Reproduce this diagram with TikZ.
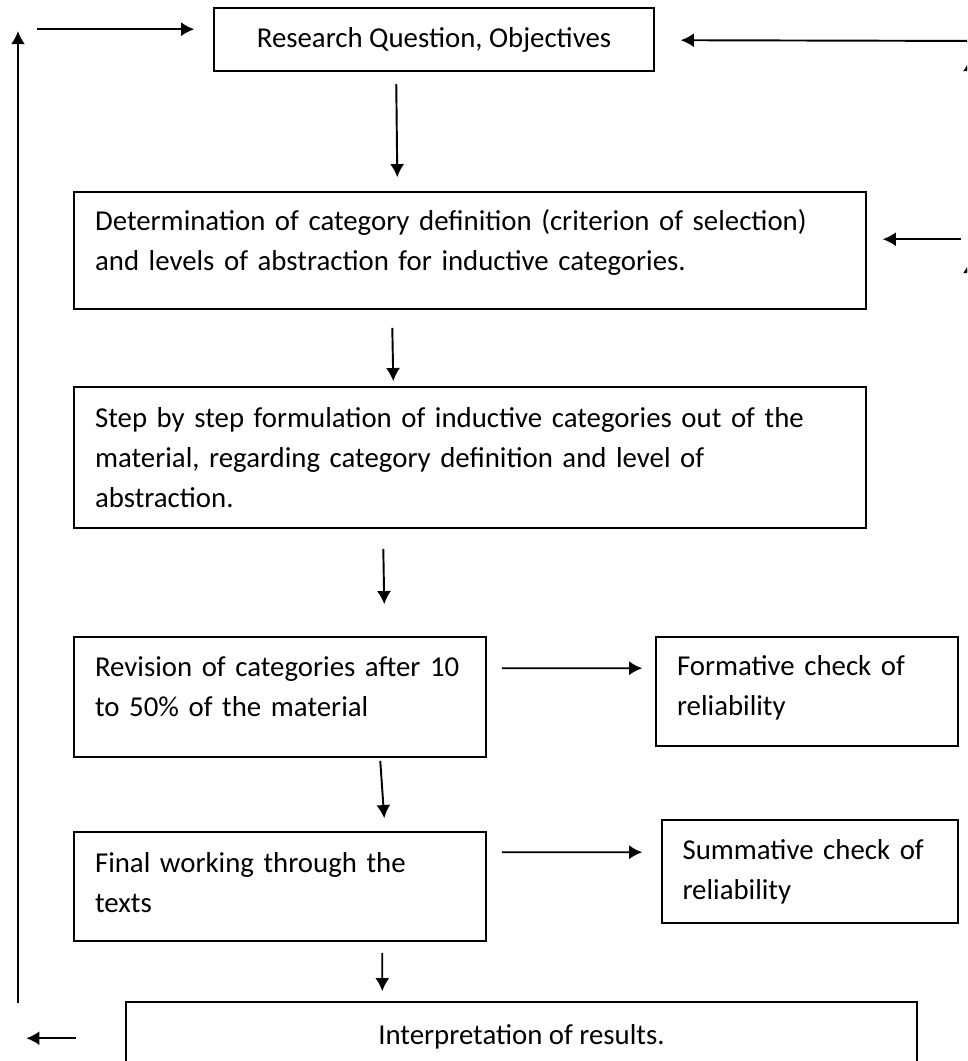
\documentclass[tikz,border=0pt]{standalone}
\usepackage{fontspec}
\setmainfont{Carlito}
\usetikzlibrary{arrows.meta, calc}

\tikzset{
  stepbox/.style={draw, line width=0.9pt, inner xsep=0pt, inner ysep=0pt, align=left},
  flow/.style={-{Latex[length=7.5pt, width=8pt]}, line width=1.1pt},
}

\begin{document}
\begin{tikzpicture}[x=0.02cm, y=-0.02cm, font={\fontsize{16.4}{22.8}\selectfont}]
\useasboundingbox (0,0) rectangle (967,1061);
\clip (0,0) rectangle (967,1061);

% boxes (centres in px, sizes in cm)
\node[stepbox, align=center, minimum width=8.8cm, minimum height=1.26cm] (q) at (434,39.5)
  {Research Question, Objectives};
\node[stepbox, minimum width=15.84cm, minimum height=2.34cm, text width=15.0cm, text depth=34.4pt] (def) at (470,250.5)
  {Determination of category definition (criterion of selection)\\and levels of abstraction for inductive categories.};
\node[stepbox, minimum width=15.84cm, minimum height=2.82cm, text width=15.0cm] (form) at (470,457.5)
  {Step by step formulation of inductive categories out of the\\material, regarding category definition and level of\\abstraction.};
\node[stepbox, minimum width=8.24cm, minimum height=2.4cm, text width=7.4cm, text depth=34.2pt] (rev) at (280,697)
  {Revision of categories after 10\\to 50\% of the material};
\node[stepbox, minimum width=6.04cm, minimum height=2.18cm, text width=5.2cm, text depth=29.9pt] (fcheck) at (807,691.5)
  {Formative check of\\reliability};
\node[stepbox, minimum width=8.24cm, minimum height=2.18cm, text width=7.4cm, text depth=27.4pt] (final) at (280,886.5)
  {Final working through the\\texts};
\node[stepbox, minimum width=5.92cm, minimum height=2.06cm, text width=5.1cm] (scheck) at (810,871.5)
  {Summative check of\\reliability};
\node[stepbox, align=center, minimum width=15.82cm, minimum height=1.4cm] (interp) at (521.5,1037)
  {Interpretation of results.};

% feedback loop
\coordinate (loopb) at (18,1003);
\coordinate (loopt) at (18,31);
\coordinate (rtop) at (990,41);
\coordinate (rup1) at (970,240);
\coordinate (rup2) at (970,520);

\begin{scope}[flow]
\draw ($(q.south west)+(183,12)$) -- ($(def.north west)+(324,-14)$);
\draw ($(def.south west)+(319,18)$) -- ($(form.north west)+(320,-5)$);
\draw ($(form.south west)+(310,20)$) -- ($(rev.north west)+(311,-32)$);
\draw ($(rev.south west)+(307,3)$) -- ($(final.north west)+(311,-13)$);
\draw ($(final.south west)+(309,11)$) -- ($(interp.north west)+(257,-10)$);
\draw ($(rev.north east)+(15,32)$) -- ($(fcheck.north west)+(-13,32)$);
\draw ($(final.north east)+(15,21)$) -- ($(scheck.north west)+(-19,33)$);
\draw (loopb) -- (loopt);
\draw ($(q.north west)+(-176,22)$) -- ($(q.north west)+(-19,22)$);
\draw ($(interp.north west)+(-49,37)$) -- ($(interp.north west)+(-99,37)$);
\draw (rtop) -- ($(q.north east)+(26,33)$);
\draw ($(def.north east)+(94,48)$) -- ($(def.north east)+(16,48)$);
\draw (rup1) -- ++(0,-182);
\draw (rup2) -- ++(0,-260);
\end{scope}

\end{tikzpicture}
\end{document}
